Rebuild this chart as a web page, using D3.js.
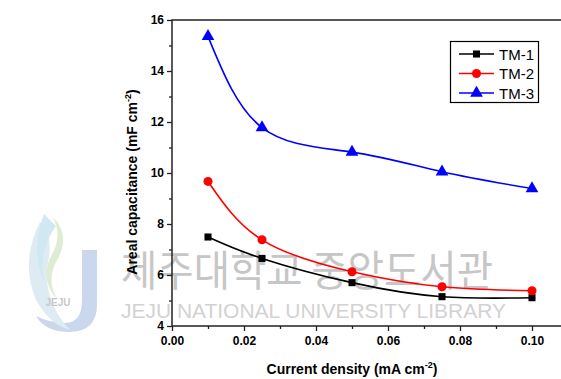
<!DOCTYPE html>
<html>
<head>
<meta charset="utf-8">
<script src="https://cdn.jsdelivr.net/npm/d3@7"></script>
<style>
  body { margin: 0; background: #fff; }
  svg { display: block; font-family: Arial, "Liberation Sans", sans-serif; }
</style>
</head>
<body>
<div id="chart"></div>
<script>
// current density (mA cm-2)
const density = [0.01, 0.025, 0.05, 0.075, 0.1];
const tm1 = [7.49, 6.65, 5.70, 5.15, 5.11];
const tm2 = [9.67, 7.38, 6.13, 5.54, 5.38];
const tm3 = [15.36, 11.78, 10.82, 10.05, 9.39];
const seriesNames = ['TM-1', 'TM-2', 'TM-3'];
const xTicks = [0, 0.02, 0.04, 0.06, 0.08, 0.10];
const yTicks = [4, 6, 8, 10, 12, 14, 16];

const width = 561, height = 379;
const colors = ['#000000', '#ff0000', '#0000ff'];
const shapes = [d3.symbolSquare, d3.symbolCircle, d3.symbolTriangle];
const sizes = [50, 64, 70];

const svg = d3.select('#chart').append('svg')
  .attr('width', width)
  .attr('height', height);

const x = d3.scaleLinear().domain([0, 0.1]).range([172, 532]);
const y = d3.scaleLinear().domain([4, 16]).range([326, 20]);

// watermark (library stamp) behind the chart
const wm = svg.append('g');
const logo = wm.append('g').attr('opacity', 0.55);
logo.append('path')
  .attr('d', 'M82,250 L97,250 L97,305 Q97,331 70,332 Q45,332 36,316 Q50,323 66,323 Q82,322 82,300 Z')
  .attr('fill', '#9fb8dd');
logo.append('path')
  .attr('d', 'M40,222 Q20,262 36,300 Q50,325 70,330 Q42,300 48,262 Q54,236 40,222 Z')
  .attr('fill', '#c6dcea');
logo.append('path')
  .attr('d', 'M44,214 Q30,250 44,282 Q38,250 56,226 Z')
  .attr('fill', '#a9d6e8');
logo.append('path')
  .attr('d', 'M52,216 Q72,236 56,262 Q46,282 58,300 Q40,282 50,258 Q64,236 52,216 Z')
  .attr('fill', '#c5ddb0');
logo.append('text')
  .attr('x', 58).attr('y', 306)
  .attr('text-anchor', 'middle')
  .attr('font-size', 10).attr('font-weight', 'bold')
  .attr('fill', '#9a9a9a')
  .text('JEJU');

wm.append('text')
  .attr('x', 121).attr('y', 286)
  .attr('font-family', '"Noto Sans CJK KR", sans-serif')
  .attr('font-size', 42)
  .attr('textLength', 372)
  .attr('lengthAdjust', 'spacingAndGlyphs')
  .attr('fill', '#c6c6c6')
  .text('제주대학교 중앙도서관');
wm.append('text')
  .attr('x', 121).attr('y', 318)
  .attr('font-size', 21)
  .attr('textLength', 385)
  .attr('fill', '#d2d2d2')
  .text('JEJU NATIONAL UNIVERSITY  LIBRARY');

// axes
const axisColor = '#222';
const xAxis = svg.append('g').attr('transform', `translate(0,${y(4)})`)
  .call(d3.axisBottom(x).tickValues(xTicks).tickSize(5).tickPadding(5)
    .tickFormat(d3.format('.2f')));
const xMinor = svg.append('g').attr('transform', `translate(0,${y(4)})`)
  .call(d3.axisBottom(x).tickValues([0.01, 0.03, 0.05, 0.07, 0.09, 0.11]).tickSize(3).tickFormat(''));
const yAxis = svg.append('g').attr('transform', `translate(${x(0)},0)`)
  .call(d3.axisLeft(y).tickValues(yTicks).tickSize(5).tickPadding(3).tickFormat(d3.format('d')));
const yMinor = svg.append('g').attr('transform', `translate(${x(0)},0)`)
  .call(d3.axisLeft(y).tickValues([5, 7, 9, 11, 13, 15]).tickSize(3).tickFormat(''));

[xAxis, xMinor, yAxis, yMinor].forEach(g => {
  g.select('.domain').remove();
  g.selectAll('line').attr('stroke', axisColor).attr('stroke-width', 1.3);
  g.selectAll('text')
    .attr('fill', '#000')
    .attr('font-size', 12)
    .attr('font-weight', 'bold')
    .attr('font-family', 'Arial, "Liberation Sans", sans-serif');
});

// frame: left, top and bottom (right edge is cut off)
svg.append('path')
  .attr('d', `M${width},${y(16)}H${x(0)}V${y(4)}H${width}`)
  .attr('fill', 'none')
  .attr('stroke', axisColor)
  .attr('stroke-width', 1.5);

// axis titles
const xt = svg.append('text')
  .attr('x', 352).attr('y', 374)
  .attr('text-anchor', 'middle')
  .attr('font-size', 14).attr('font-weight', 'bold');
xt.append('tspan').text('Current density (mA cm');
xt.append('tspan').attr('dy', -6).attr('font-size', 9).text('-2');
xt.append('tspan').attr('dy', 6).text(')');

const yt = svg.append('text')
  .attr('transform', `translate(137,182) rotate(-90)`)
  .attr('text-anchor', 'middle')
  .attr('font-size', 14).attr('font-weight', 'bold');
yt.append('tspan').text('Areal capacitance (mF cm');
yt.append('tspan').attr('dy', -6).attr('font-size', 9).text('-2');
yt.append('tspan').attr('dy', 6).text(')');

// series
const series = [tm1, tm2, tm3];
const line = d3.line()
  .x(d => x(d[0]))
  .y(d => y(d[1]))
  .curve(d3.curveNatural);

series.forEach((vals, i) => {
  const pts = density.map((d, j) => [d, vals[j]]);
  svg.append('path')
    .datum(pts)
    .attr('d', line)
    .attr('fill', 'none')
    .attr('stroke', colors[i])
    .attr('stroke-width', 1.6);
  svg.append('g').selectAll('path')
    .data(pts)
    .join('path')
    .attr('transform', d => `translate(${x(d[0])},${y(d[1])})`)
    .attr('d', d3.symbol().type(shapes[i]).size(sizes[i]))
    .attr('fill', colors[i]);
});

// legend
const lg = svg.append('g');
lg.append('rect')
  .attr('x', 450.5).attr('y', 41.5)
  .attr('width', 88).attr('height', 61)
  .attr('fill', '#fff')
  .attr('stroke', '#000')
  .attr('stroke-width', 1.2);
const legendY = [54, 73.5, 93];
seriesNames.forEach((name, i) => {
  const g = lg.append('g').attr('transform', `translate(0,${legendY[i]})`);
  g.append('line')
    .attr('x1', 459).attr('x2', 494)
    .attr('stroke', colors[i]).attr('stroke-width', 1.6);
  g.append('path')
    .attr('transform', 'translate(476.5,0)')
    .attr('d', d3.symbol().type(shapes[i]).size(sizes[i]))
    .attr('fill', colors[i]);
  g.append('text')
    .attr('x', 499).attr('y', 5.5)
    .attr('font-size', 15)
    .text(name);
});
</script>
</body>
</html>
